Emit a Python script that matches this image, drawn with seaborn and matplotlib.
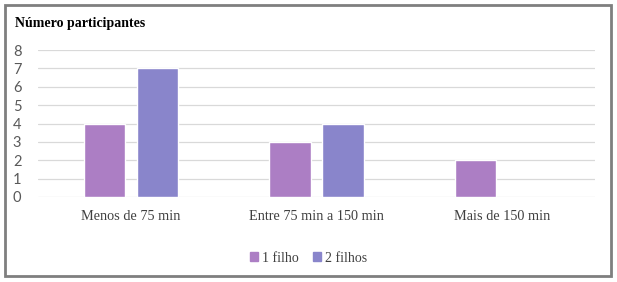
import matplotlib
matplotlib.use("Agg")
import matplotlib.pyplot as plt
import matplotlib.patches as mpatches
import seaborn as sns
import pandas as pd

categories = ["Menos de 75 min", "Entre 75 min a 150 min", "Mais de 150 min"]
series_names = ["1 filho", "2 filhos"]
um_filho = [4, 3, 2]
dois_filhos = [7, 4, None]
y_ticks = [0, 1, 2, 3, 4, 5, 6, 7, 8]
colors = ["#AC7EC4", "#8985CB"]

rows = []
for c, v in zip(categories, um_filho):
    if v is not None:
        rows.append({"cat": c, "serie": series_names[0], "val": v})
for c, v in zip(categories, dois_filhos):
    if v is not None:
        rows.append({"cat": c, "serie": series_names[1], "val": v})
df = pd.DataFrame(rows)

sns.set_theme(style="white")
fig = plt.figure(figsize=(6.17, 2.82), dpi=100)
ax = fig.add_axes([38/617, 1-197/282, (595-38)/617, (197-50)/282])

sns.barplot(data=df, x="cat", y="val", hue="serie", order=categories,
            hue_order=series_names, palette=colors, width=0.57, gap=0.22,
            saturation=1, ax=ax, legend=False)

ax.set_ylim(0, 8)
ax.set_xlim(-0.5, 2.5)
ax.set_yticks(y_ticks)
ax.yaxis.grid(True, color="#D9D9D9", linewidth=0.9)
ax.set_axisbelow(True)
for s in ax.spines.values():
    s.set_visible(False)
ax.tick_params(axis="both", length=0)
ax.tick_params(axis="y", pad=12)
ax.tick_params(axis="x", pad=9)
for t in ax.get_yticklabels():
    t.set_fontfamily("Lato")
    t.set_fontsize(10.5)
    t.set_color("#595959")
for t in ax.get_xticklabels():
    t.set_fontfamily("Liberation Serif")
    t.set_fontsize(10.3)
    t.set_color("#404040")
ax.set_xlabel("")
ax.set_ylabel("")

fig.text(15/617, 1-24/282, "Número participantes", fontfamily="Liberation Serif",
         fontweight="bold", fontsize=10, color="#000000", va="center", ha="left")

handles = [mpatches.Patch(color=col, label=n) for col, n in zip(colors, series_names)]
fig.legend(handles=handles, loc="center", bbox_to_anchor=(0.5, 1-258/282), ncol=2,
           frameon=False, handlelength=0.6, handleheight=0.6, handletextpad=0.3,
           columnspacing=1.0, prop={"family": "Liberation Serif", "size": 10},
           labelcolor="#404040")

fig.patches.append(mpatches.Rectangle((5/617, 1-276/282), (611-5)/617, (276-5)/282,
                                      transform=fig.transFigure, fill=False,
                                      edgecolor="#7F7F7F", linewidth=2))
fig.savefig("out.png", dpi=100, facecolor="white")
